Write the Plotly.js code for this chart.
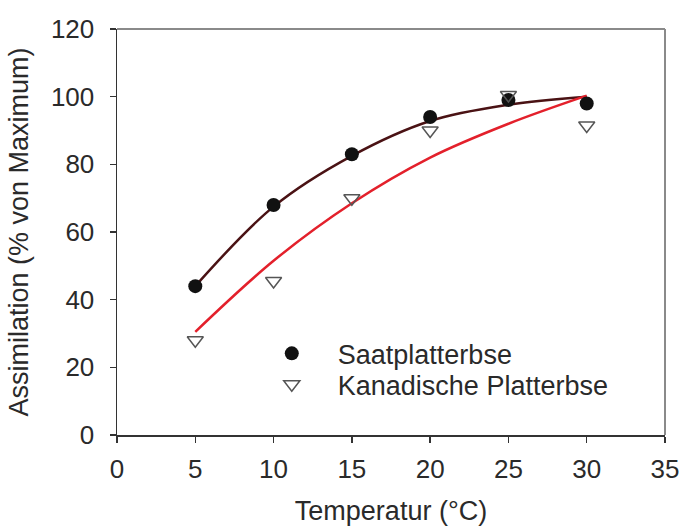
<!DOCTYPE html>
<html>
<head>
<meta charset="utf-8">
<script src="https://cdn.plot.ly/plotly-3.0.1.min.js"></script>
<style>html,body{margin:0;padding:0;background:#fff;}#chart{width:680px;height:532px;}</style>
</head>
<body>
<div id="chart"></div>
<script>
// Observed data
const temps = [5, 10, 15, 20, 25, 30];
const saatValues = [44, 68, 83, 94, 99, 98];
const kanadValues = [28, 45.5, 70, 90, 100.5, 91.5];
// Fitted curves
const fitTemps = [5, 10, 15, 20, 25, 30];
const saatFit = [44, 67.5, 82.5, 92.8, 97.6, 100];
const kanadFit = [30.5, 51.5, 68.5, 82, 92, 100.3];
const seriesNames = ["Saatplatterbse", "Kanadische Platterbse"];
const xTicks = [0, 5, 10, 15, 20, 25, 30, 35];
const yTicks = [0, 20, 40, 60, 80, 100, 120];

const font = "Liberation Sans, Arial, sans-serif";
const txt = "#2a2a2a";
const traces = [
  {x: fitTemps, y: saatFit, mode: "lines", line: {color: "#4a1214", width: 2.5, shape: "spline"}, showlegend: false, hoverinfo: "skip"},
  {x: fitTemps, y: kanadFit, mode: "lines", line: {color: "#e3202b", width: 2.5, shape: "spline"}, showlegend: false, hoverinfo: "skip"},
  {x: temps, y: saatValues, mode: "markers", name: seriesNames[0], legend: "legend",
   marker: {symbol: "circle", size: 14, color: "#111", line: {width: 0}}},
  {x: temps, y: kanadValues, mode: "markers", name: seriesNames[1], legend: "legend2",
   marker: {symbol: "triangle-down-open", size: 14, color: "#555", line: {width: 1.5}}}
];

const legendBase = {
  xanchor: "left", yanchor: "middle",
  bgcolor: "rgba(0,0,0,0)", borderwidth: 0,
  itemwidth: 82, font: {size: 27, color: txt}
};

const layout = {
  width: 680, height: 532,
  margin: {l: 117, r: 15, t: 29, b: 97},
  paper_bgcolor: "#fff", plot_bgcolor: "#fff",
  font: {family: font, size: 26, color: txt},
  xaxis: {
    range: [0, 35], tickvals: xTicks, ticktext: xTicks.map(String),
    showgrid: false, zeroline: false, showline: true, linecolor: "#333", linewidth: 1.5,
    ticks: "outside", ticklen: 6, tickcolor: "#333", tickwidth: 1.5,
    ticklabelstandoff: 4, tickfont: {size: 26},
    title: {text: "Temperatur (°C)", font: {size: 27}, standoff: 18},
    fixedrange: true
  },
  yaxis: {
    range: [0, 120], tickvals: yTicks, ticktext: yTicks.map(String),
    showgrid: false, zeroline: false, showline: true, linecolor: "#333", linewidth: 1.5,
    ticks: "outside", ticklen: 6, tickcolor: "#333", tickwidth: 1.5,
    ticklabelstandoff: 10, tickfont: {size: 26},
    title: {text: "Assimilation (% von Maximum)", font: {size: 27}, standoff: 14},
    fixedrange: true
  },
  shapes: [
    {type: "line", xref: "paper", yref: "paper", x0: 0, x1: 1, y0: 1, y1: 1, line: {color: "#8a8a8a", width: 2}},
    {type: "line", xref: "paper", yref: "paper", x0: 1, x1: 1, y0: 0, y1: 1, line: {color: "#8a8a8a", width: 2}}
  ],
  legend: Object.assign({}, legendBase, {x: 0.235, y: 0.2}),
  legend2: Object.assign({}, legendBase, {x: 0.235, y: 0.124}),
  showlegend: true
};

Plotly.newPlot("chart", traces, layout, {displayModeBar: false, staticPlot: true});
</script>
</body>
</html>
